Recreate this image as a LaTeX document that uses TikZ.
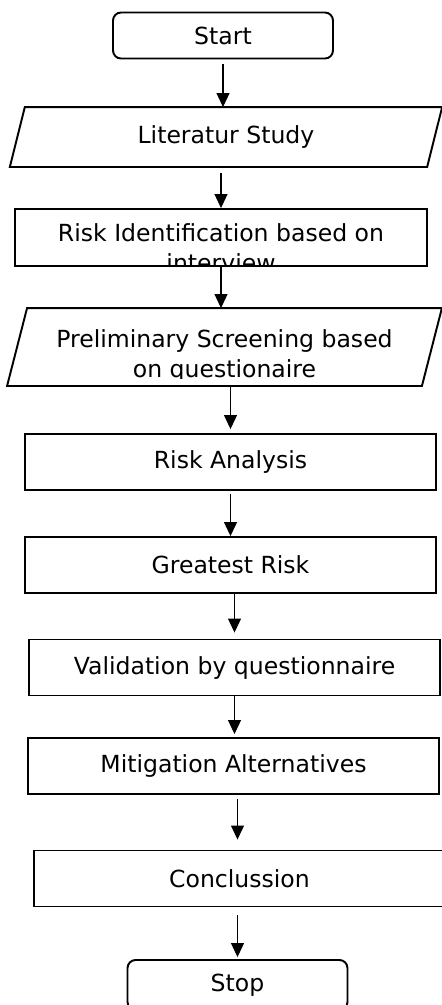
\documentclass[tikz,border=0pt]{standalone}
\usepackage{fontspec}
\setmainfont{DejaVu Sans}
\usetikzlibrary{arrows.meta}
\tikzset{
  proc/.style={draw, line width=1.1pt, minimum height=1.12cm, inner sep=0pt,
               align=center},
  term/.style={proc, rounded corners=0.16cm, minimum width=4.4cm,
               minimum height=0.92cm},
  io/.style={proc, draw=none},
  flow/.style={-{Triangle[length=0.28cm, width=0.26cm]}, line width=0.6pt},
}
\newcommand{\procbox}[4]{%
  \node[proc, minimum width=#3] (#1) at (#2) {#4};}
% slanted frame round an io node, #2 = half the slant
\newcommand{\slantframe}[2]{%
  \draw[line width=1.1pt] ([xshift=-#2]#1.south west) -- ([xshift=#2]#1.north west)
    -- ([xshift=#2]#1.north east) -- ([xshift=-#2]#1.south east) -- cycle;}

\begin{document}
\begin{tikzpicture}[x=0.02cm, y=-0.02cm, font=\fontsize{13.4}{17}\selectfont]
  \useasboundingbox (0,0) rectangle (442,1005);
  \node[term] (start) at (223,35.5) {Start};
  \node[io, minimum width=8.31cm, minimum height=1.16cm] (lit) at (226,137)
    {Literatur Study};
  \slantframe{lit}{0.15cm}
  % text runs past the box and is cut at its edge
  \node[proc, minimum width=8.24cm, minimum height=1.14cm,
        path picture={\node[align=center]
          at ([yshift=-0.2cm]path picture bounding box.center)
          {Risk Identification based on\\interview};}] (riskid) at (221,237.5) {};
  \node[io, minimum width=8.26cm, minimum height=1.52cm,
        path picture={\clip (path picture bounding box.north west) rectangle
          ([yshift=0.14cm]path picture bounding box.south east);
          \node[align=center]
          at ([yshift=-0.18cm]path picture bounding box.center)
          {Preliminary Screening based\\on questionaire};}] (prelim) at (224.5,347) {};
  \slantframe{prelim}{0.2cm}
  \procbox{analysis}{230.5,462}{8.22cm}{Risk Analysis}
  \procbox{greatest}{230.5,565}{8.22cm}{Greatest Risk}
  \procbox{valid}{234.5,667.5}{8.22cm}{Validation by questionnaire}
  \procbox{mitig}{233.5,766}{8.22cm}{Mitigation Alternatives}
  \procbox{concl}{239.5,878.5}{8.22cm}{Conclussion}
  \node[term, minimum height=1.0cm] (stop) at (237.5,985) {Stop};

  \draw[flow, shorten <=0.1cm] (start.south) -- (start.south |- lit.north);
  \draw[flow, shorten <=0.12cm] (lit.south -| riskid.north) -- (riskid.north);
  \draw[flow] (riskid.south) -- (riskid.south |- prelim.north);
  \draw[flow, shorten >=0.08cm] (prelim.south -| analysis.north) -- (analysis.north);
  \draw[flow, shorten <=0.06cm] (analysis.south) -- (greatest.north);
  \draw[flow, shorten >=0.12cm] (greatest.south -| valid.north) -- (valid.north);
  \draw[flow, shorten >=0.06cm] (valid.south) -- (valid.south |- mitig.north);
  \draw[flow, shorten <=0.08cm, shorten >=0.2cm]
    (mitig.south -| stop.north) -- (stop.north |- concl.north);
  \draw[flow, shorten <=0.16cm, shorten >=0.04cm]
    (concl.south -| stop.north) -- (stop.north);
\end{tikzpicture}
\end{document}
